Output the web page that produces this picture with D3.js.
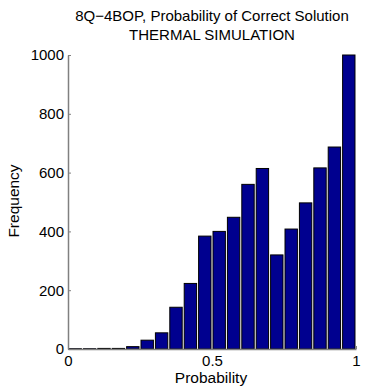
<!DOCTYPE html>
<html>
<head>
<meta charset="utf-8">
<script src="https://cdn.jsdelivr.net/npm/d3@7"></script>
<style>
  body { margin: 0; background: #fff; }
  svg text { font-family: "Liberation Sans", Arial, sans-serif; fill: #000; }
</style>
</head>
<body>
<div id="chart"></div>
<script>
// histogram bins (centers) and counts
var binCenters = [0.025, 0.075, 0.125, 0.175, 0.225, 0.275, 0.325, 0.375, 0.425, 0.475,
                  0.525, 0.575, 0.625, 0.675, 0.725, 0.775, 0.825, 0.875, 0.925, 0.975];
var counts = [1, 1, 2, 2, 8, 30, 55, 142, 223, 384,
              400, 448, 560, 614, 320, 408, 497, 616, 687, 1000];
var xTicks = [0, 0.5, 1];
var xTickLabels = ["0", "0.5", "1"];
var yTicks = [0, 200, 400, 600, 800, 1000];
var titleLines = ["8Q\u22124BOP, Probability of Correct Solution", "THERMAL SIMULATION"];

var margin = { top: 55, left: 68 },
    width = 376, height = 389,
    innerW = 356 - margin.left,
    innerH = 349 - margin.top;

var svg = d3.select("#chart").append("svg")
    .attr("width", width)
    .attr("height", height);

var g = svg.append("g")
    .attr("transform", "translate(" + margin.left + "," + margin.top + ")");

var x = d3.scaleLinear().domain([0, 1]).range([0, innerW]);
var y = d3.scaleLinear().domain([0, 1000]).range([innerH, 0]);
var binW = 0.05, barFrac = 0.86;

// bars
g.selectAll("rect.bar")
    .data(counts)
    .enter().append("rect")
    .attr("class", "bar")
    .attr("x", function (d, i) { return x(binCenters[i] - binW * barFrac / 2); })
    .attr("width", function () { return x(binW * barFrac) - x(0); })
    .attr("y", function (d) { return y(d); })
    .attr("height", function (d) { return y(0) - y(d); })
    .attr("fill", "#00008f")
    .attr("stroke", "#000")
    .attr("stroke-width", 1);

// axes (MATLAB style: gray lines, ticks inside)
var axisColor = "#808080";
var yAxis = g.append("g")
    .call(d3.axisLeft(y).tickValues(yTicks).tickFormat(d3.format("d"))
        .tickSizeInner(-3).tickSizeOuter(0).tickPadding(4));
var xAxis = g.append("g")
    .attr("transform", "translate(0," + innerH + ")")
    .call(d3.axisBottom(x).tickValues(xTicks).tickFormat(function (d, i) { return xTickLabels[i]; })
        .tickSizeInner(-3).tickSizeOuter(0).tickPadding(6));

[xAxis, yAxis].forEach(function (a) {
    a.select(".domain").attr("stroke", axisColor).attr("stroke-width", 1.5);
    a.selectAll(".tick line").attr("stroke", axisColor);
    a.selectAll(".tick text").style("font-size", "15px").attr("fill", "#000");
});

// titles
svg.selectAll("text.title")
    .data(titleLines)
    .enter().append("text")
    .attr("class", "title")
    .attr("x", 212)
    .attr("y", function (d, i) { return 21 + i * 18.5; })
    .attr("text-anchor", "middle")
    .style("font-size", "15px")
    .text(function (d) { return d; });

svg.append("text")
    .attr("x", 211)
    .attr("y", 383)
    .attr("text-anchor", "middle")
    .style("font-size", "15.5px")
    .text("Probability");

svg.append("text")
    .attr("transform", "translate(19,201) rotate(-90)")
    .attr("text-anchor", "middle")
    .style("font-size", "15.5px")
    .text("Frequency");
</script>
</body>
</html>
